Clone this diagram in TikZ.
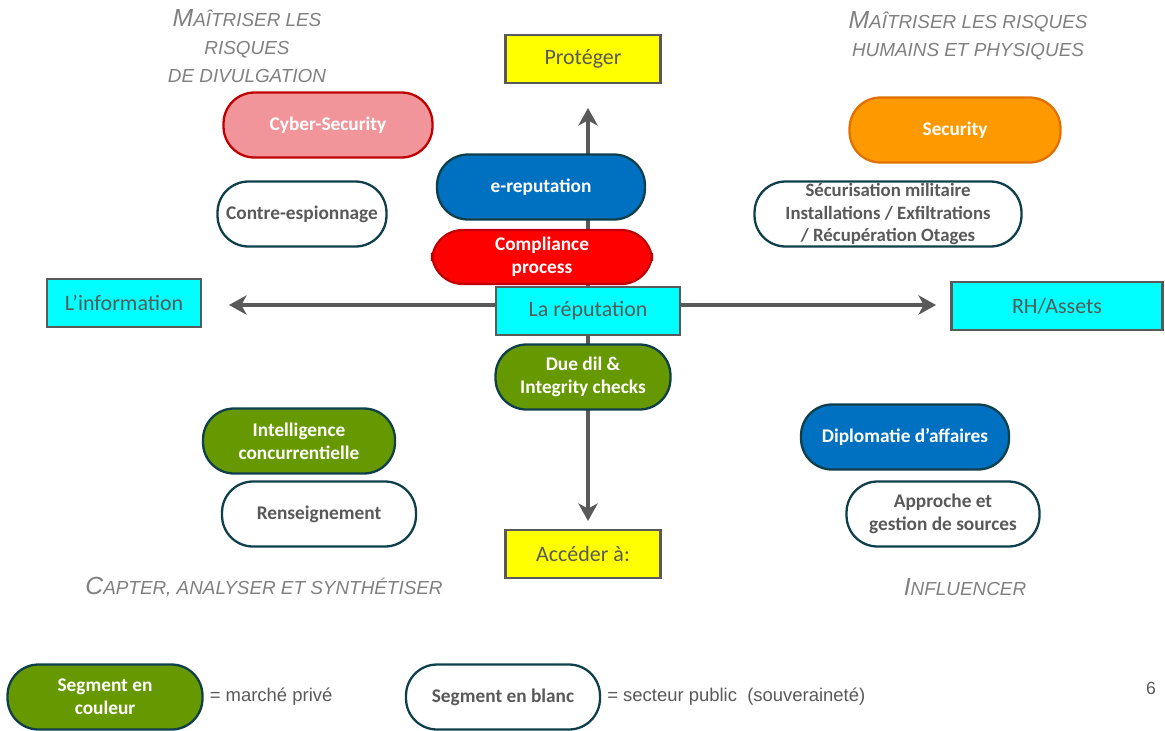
\documentclass[tikz,border=0pt]{standalone}
\usepackage{fontspec}
\setmainfont{Carlito}
\newfontfamily\arialfont{Liberation Sans}
\usepackage{xcolor}
\usetikzlibrary{arrows.meta}

\definecolor{txtgray}{HTML}{595959}
\definecolor{headgray}{HTML}{808080}
\definecolor{pillblue}{HTML}{0070C0}
\definecolor{pillgreen}{HTML}{669900}
\definecolor{pillpink}{HTML}{F2959B}
\definecolor{pillred}{HTML}{FF0000}
\definecolor{pillorange}{HTML}{FF9900}
\definecolor{darkteal}{HTML}{0E3F4A}
\definecolor{darkred}{HTML}{C00000}
\definecolor{darkorange}{HTML}{E07000}
\definecolor{boxcyan}{HTML}{00FFFF}
\definecolor{boxyellow}{HTML}{FFFF00}

\newcommand{\smallcap}[2]{{\fontsize{14.1}{16}\selectfont #1}{\fontsize{10.75}{16}\selectfont #2}}

\begin{document}
\begin{tikzpicture}[x=0.02cm, y=-0.02cm,
  box/.style={draw=txtgray, line width=1.6pt, text=txtgray, font=\fontsize{12.5}{15}\selectfont, minimum height=0.96cm, inner sep=0pt},
  pill/.style={draw=darkteal, line width=1.3pt, rounded corners=0.62cm, minimum height=1.3cm, align=center, font=\bfseries\fontsize{11}{13}\selectfont, text=white, inner sep=0pt},
  blank/.style={pill, fill=white, text=txtgray},
  heading/.style={text=headgray, align=center, font=\arialfont\itshape\fontsize{10.75}{16}\selectfont},
  legendtext/.style={text=txtgray, anchor=west, font=\arialfont\fontsize{10.5}{13}\selectfont},
  axisarrow/.style={draw=txtgray, line width=2.4pt, -{Stealth[length=10pt,width=11pt,inset=3pt]}}]
\useasboundingbox (0,0) rectangle (1165,730);

% axes
\node[box, fill=boxcyan, minimum width=3.68cm] (Reputation) at (588,311) {La réputation};
\coordinate (TipUp) at (588,108);
\coordinate (TipDown) at (588,521);
\coordinate (TipLeft) at (229,305);
\coordinate (TipRight) at (936,305);
\draw[axisarrow] (Reputation.north) -- (TipUp);
\draw[axisarrow] (Reputation.south) -- (TipDown);
\draw[axisarrow] (Reputation.west |- TipLeft) -- (TipLeft);
\draw[axisarrow] (Reputation.east |- TipRight) -- (TipRight);

\node[box, fill=boxyellow, minimum width=3.10cm] (Proteger) at (583,59) {Protéger};
\node[box, fill=boxyellow, minimum width=3.10cm] (Acceder) at (583,554) {Accéder à:};
\node[box, fill=boxcyan, minimum width=3.08cm] (Information) at (124,303) {L’information};
\node[box, fill=boxcyan, minimum width=4.22cm] (Assets) at (1057,306) {RH/Assets};

% headings
\node[heading] (HeadDivulgation) at (247,46) {\smallcap{M}{AÎTRISER LES}\\\smallcap{}{RISQUES}\\\smallcap{}{DE DIVULGATION}};
\node[heading] (HeadHumains) at (968,36) {\smallcap{M}{AÎTRISER LES RISQUES}\\\smallcap{}{HUMAINS ET PHYSIQUES}};
\node[heading] (HeadCapter) at (264,587) {\smallcap{C}{APTER, ANALYSER ET SYNTHÉTISER}};
\node[heading] (HeadInfluencer) at (965,587) {\smallcap{I}{NFLUENCER}};

% segments
\node[pill, fill=pillpink, draw=darkred, minimum width=4.18cm] (Cyber) at (328,125) {Cyber-Security};
\node[blank, minimum width=3.38cm] (Contre) at (302,214) {Contre-espionnage};
\node[pill, fill=pillblue, minimum width=4.16cm] (EReputation) at (541,187) {e-reputation};
\node[pill, fill=pillred, draw=darkred, minimum width=4.40cm, minimum height=1.08cm] (Compliance) at (542,257) {Compliance\\process};
\node[pill, fill=pillgreen, minimum width=3.50cm] (DueDil) at (583,377) {Due dil \&\\Integrity checks};
\node[pill, fill=pillorange, draw=darkorange, minimum width=4.22cm] (Security) at (955,130) {Security};
\node[blank, minimum width=5.34cm, font=\bfseries\fontsize{10.7}{12.8}\selectfont] (Militaire) at (888,214) {Sécurisation militaire\\Installations / Exfiltrations\\/ Récupération Otages};
\node[pill, fill=pillgreen, minimum width=3.84cm] (Intelligence) at (299,441) {Intelligence\\concurrentielle};
\node[blank, minimum width=3.88cm] (Renseignement) at (319,514) {Renseignement};
\node[pill, fill=pillblue, minimum width=4.16cm] (Diplomatie) at (905,437) {Diplomatie d’affaires};
\node[blank, minimum width=3.86cm] (Approche) at (943,514) {Approche et\\gestion de sources};

% legend
\node[pill, fill=pillgreen, minimum width=3.90cm] (LegColour) at (105,697) {Segment en\\couleur};
\node[legendtext] (LegPrive) at (LegColour.east) {= marché privé};
\node[blank, minimum width=3.88cm] (LegBlanc) at (503,697) {Segment en blanc};
\node[legendtext] (LegPublic) at (LegBlanc.east) {= secteur public\ \ (souveraineté)};
\node[text=txtgray, font=\arialfont\fontsize{10}{12}\selectfont] (PageNum) at (1151,688) {6};
\end{tikzpicture}
\end{document}
